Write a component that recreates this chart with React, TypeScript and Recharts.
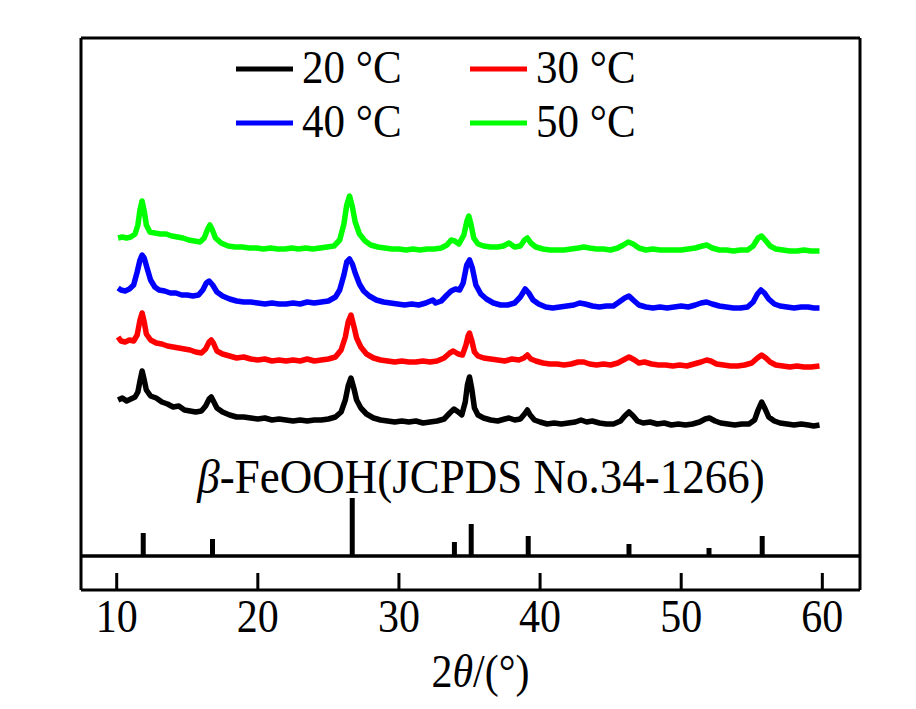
import React from 'react';
import { ComposedChart, Line, XAxis, YAxis, ReferenceLine, Legend } from 'recharts';

const FONT = '"Liberation Serif", "Times New Roman", serif';

const xTicks = [10, 20, 30, 40, 50, 60];
const xDomain = [7.47, 62.67];
const yDomain = [-34, 518];

const seriesNames = ['20 °C', '30 °C', '40 °C', '50 °C'];
const seriesColors = ['#000000', '#ff0000', '#0000ff', '#00ff00'];

// JCPDS No.34-1266 reference lines: [2θ, relative height]
const refPeaks = [
  [11.88, 23], [16.79, 17], [26.69, 58], [33.93, 14], [35.12, 32],
  [39.16, 20], [46.3, 12], [51.97, 8], [55.74, 20],
];

// [2θ, intensity (a.u., offset stacked)]
const t20 = [
  [10.1, 156], [10.4, 158], [10.7, 155], [11.0, 157], [11.3, 159], [11.5, 164], [11.65, 175], [11.8, 185],
  [11.95, 176], [12.1, 166], [12.4, 160], [12.8, 158], [13.2, 154], [13.6, 152], [14.0, 149], [14.4, 150],
  [14.8, 146], [15.2, 145], [15.6, 144], [16.0, 145], [16.3, 150], [16.55, 157], [16.7, 159], [16.85, 155],
  [17.1, 148], [17.5, 144], [18.0, 141], [18.5, 139], [19.0, 139], [19.5, 138], [20.0, 137], [20.5, 138],
  [21.0, 136], [21.5, 137], [22.0, 136], [22.5, 135], [23.0, 136], [23.5, 135], [24.0, 136], [24.5, 136],
  [25.0, 137], [25.5, 139], [25.9, 144], [26.2, 156], [26.4, 170], [26.6, 178], [26.8, 168], [27.0, 156],
  [27.3, 148], [27.7, 142], [28.2, 138], [28.7, 136], [29.2, 135], [29.7, 134], [30.2, 135], [30.7, 134],
  [31.2, 135], [31.7, 133], [32.2, 134], [32.7, 135], [33.2, 137], [33.6, 143], [33.9, 147], [34.2, 144],
  [34.45, 141], [34.7, 154], [34.85, 171], [35.0, 179], [35.15, 168], [35.35, 148], [35.6, 141], [36.0, 138],
  [36.5, 136], [37.0, 135], [37.5, 137], [37.8, 138], [38.2, 136], [38.6, 137], [38.9, 142], [39.1, 146],
  [39.3, 141], [39.6, 136], [40.0, 134], [40.5, 132], [41.0, 133], [41.5, 132], [42.0, 133], [42.5, 134],
  [42.9, 136], [43.3, 134], [43.7, 135], [44.2, 133], [44.7, 132], [45.2, 132], [45.7, 135], [46.0, 140],
  [46.3, 144], [46.6, 140], [46.9, 135], [47.3, 133], [47.8, 134], [48.3, 132], [48.8, 133], [49.3, 131],
  [49.8, 132], [50.3, 131], [50.8, 132], [51.3, 134], [51.7, 137], [52.0, 138], [52.4, 135], [52.8, 133],
  [53.3, 132], [53.8, 131], [54.3, 132], [54.8, 132], [55.2, 136], [55.45, 146], [55.7, 154], [55.95, 147],
  [56.2, 139], [56.6, 135], [57.0, 133], [57.5, 132], [58.0, 131], [58.5, 132], [59.0, 131], [59.4, 130],
  [59.8, 131],
];

const t30 = [
  [10.1, 219], [10.3, 215], [10.6, 214], [10.9, 216], [11.2, 215], [11.45, 221], [11.65, 236], [11.8, 243],
  [11.95, 234], [12.1, 222], [12.4, 216], [12.8, 213], [13.2, 212], [13.6, 210], [14.0, 209], [14.4, 208],
  [14.8, 207], [15.2, 206], [15.6, 204], [16.0, 203], [16.3, 207], [16.55, 214], [16.7, 216], [16.85, 213],
  [17.1, 205], [17.5, 202], [18.0, 200], [18.5, 198], [19.0, 199], [19.5, 197], [20.0, 196], [20.5, 197],
  [21.0, 195], [21.5, 196], [22.0, 195], [22.5, 196], [23.0, 195], [23.5, 197], [24.0, 195], [24.5, 196],
  [25.0, 197], [25.5, 199], [25.9, 206], [26.2, 219], [26.4, 234], [26.6, 241], [26.8, 230], [27.0, 218],
  [27.3, 209], [27.7, 202], [28.2, 198], [28.7, 196], [29.2, 195], [29.7, 194], [30.2, 195], [30.7, 194],
  [31.2, 194], [31.7, 195], [32.2, 194], [32.7, 195], [33.2, 198], [33.6, 203], [33.85, 205], [34.2, 202],
  [34.5, 201], [34.75, 211], [34.9, 220], [35.0, 223], [35.15, 216], [35.35, 204], [35.6, 200], [36.0, 198],
  [36.5, 197], [37.0, 196], [37.5, 195], [38.0, 197], [38.5, 196], [38.85, 198], [39.1, 201], [39.35, 197],
  [39.7, 195], [40.2, 193], [40.7, 192], [41.2, 192], [41.7, 191], [42.2, 192], [42.7, 194], [43.1, 194],
  [43.5, 192], [44.0, 191], [44.5, 192], [45.0, 191], [45.5, 193], [45.9, 196], [46.3, 199], [46.7, 196],
  [47.0, 193], [47.4, 194], [47.9, 192], [48.4, 191], [48.9, 191], [49.4, 190], [49.9, 191], [50.4, 190],
  [50.9, 192], [51.4, 194], [51.8, 196], [52.1, 195], [52.5, 192], [53.0, 191], [53.5, 190], [54.0, 190],
  [54.5, 191], [55.0, 193], [55.4, 198], [55.7, 201], [56.0, 198], [56.3, 194], [56.7, 191], [57.2, 190],
  [57.7, 189], [58.2, 190], [58.7, 189], [59.2, 189], [59.8, 190],
];

const t40 = [
  [10.1, 268], [10.3, 266], [10.6, 265], [10.9, 267], [11.2, 271], [11.45, 284], [11.65, 296], [11.8, 301],
  [11.95, 298], [12.15, 288], [12.4, 276], [12.7, 269], [13.0, 266], [13.4, 265], [13.8, 263], [14.2, 263],
  [14.6, 261], [15.0, 261], [15.4, 260], [15.8, 261], [16.1, 266], [16.35, 273], [16.55, 275], [16.8, 271],
  [17.1, 264], [17.5, 260], [18.0, 257], [18.5, 255], [19.0, 254], [19.5, 254], [20.0, 253], [20.5, 252],
  [21.0, 253], [21.5, 252], [22.0, 252], [22.5, 253], [23.0, 252], [23.5, 254], [24.0, 253], [24.5, 254],
  [25.0, 255], [25.5, 259], [25.8, 266], [26.1, 281], [26.3, 294], [26.5, 297], [26.7, 292], [26.9, 283],
  [27.2, 272], [27.5, 265], [27.9, 260], [28.4, 256], [28.9, 254], [29.4, 253], [29.9, 252], [30.4, 251],
  [30.9, 252], [31.4, 251], [31.9, 253], [32.4, 256], [32.6, 253], [33.0, 255], [33.4, 261], [33.7, 265],
  [34.0, 267], [34.3, 266], [34.55, 273], [34.8, 291], [35.0, 296], [35.2, 288], [35.45, 271], [35.8, 262],
  [36.2, 257], [36.7, 253], [37.2, 251], [37.7, 251], [38.2, 253], [38.6, 259], [38.95, 267], [39.2, 263],
  [39.5, 256], [39.9, 252], [40.4, 249], [40.9, 248], [41.4, 249], [41.9, 250], [42.4, 251], [42.8, 253],
  [43.2, 252], [43.7, 250], [44.2, 249], [44.7, 250], [45.2, 250], [45.6, 254], [46.0, 258], [46.3, 260],
  [46.6, 256], [47.0, 251], [47.5, 249], [48.0, 248], [48.5, 249], [49.0, 248], [49.5, 249], [50.0, 250],
  [50.5, 249], [51.0, 251], [51.4, 253], [51.8, 254], [52.2, 252], [52.7, 250], [53.2, 249], [53.7, 248],
  [54.2, 248], [54.7, 249], [55.1, 254], [55.4, 262], [55.65, 266], [55.9, 263], [56.2, 257], [56.6, 252],
  [57.0, 250], [57.5, 249], [58.0, 248], [58.5, 249], [59.0, 249], [59.4, 248], [59.8, 248],
];

const t50 = [
  [10.1, 318], [10.4, 319], [10.7, 318], [11.0, 319], [11.3, 322], [11.5, 331], [11.65, 346], [11.8, 355],
  [11.95, 345], [12.1, 331], [12.35, 324], [12.7, 323], [13.1, 322], [13.5, 322], [13.9, 320], [14.3, 319],
  [14.7, 318], [15.1, 316], [15.5, 315], [15.9, 314], [16.2, 318], [16.45, 327], [16.6, 331], [16.75, 327],
  [17.0, 318], [17.4, 313], [17.9, 310], [18.4, 309], [18.9, 309], [19.4, 308], [19.9, 308], [20.4, 307],
  [20.9, 308], [21.4, 307], [21.9, 307], [22.4, 308], [22.9, 307], [23.4, 308], [23.9, 307], [24.4, 308],
  [24.9, 309], [25.4, 310], [25.8, 316], [26.1, 332], [26.3, 351], [26.5, 360], [26.7, 349], [26.9, 334],
  [27.2, 322], [27.6, 315], [28.0, 311], [28.5, 309], [29.0, 308], [29.5, 307], [30.0, 307], [30.5, 306],
  [31.0, 307], [31.5, 306], [32.0, 307], [32.5, 307], [33.0, 308], [33.4, 311], [33.7, 316], [33.95, 315],
  [34.25, 312], [34.6, 321], [34.8, 334], [34.95, 340], [35.1, 332], [35.3, 318], [35.6, 312], [36.0, 310],
  [36.5, 309], [37.0, 309], [37.4, 310], [37.8, 313], [38.2, 309], [38.6, 310], [38.9, 316], [39.1, 318],
  [39.35, 313], [39.7, 309], [40.2, 307], [40.7, 306], [41.2, 306], [41.7, 306], [42.2, 307], [42.7, 308],
  [43.1, 309], [43.5, 308], [44.0, 307], [44.5, 307], [45.0, 306], [45.5, 308], [45.9, 311], [46.25, 314],
  [46.6, 312], [47.0, 308], [47.5, 306], [48.0, 307], [48.5, 306], [49.0, 306], [49.5, 306], [50.0, 306],
  [50.5, 307], [51.0, 308], [51.5, 310], [51.8, 311], [52.2, 308], [52.7, 306], [53.2, 306], [53.7, 305],
  [54.2, 306], [54.7, 306], [55.1, 310], [55.45, 318], [55.7, 320], [55.95, 316], [56.3, 310], [56.7, 307],
  [57.2, 306], [57.7, 305], [58.2, 305], [58.7, 306], [59.2, 305], [59.8, 305],
];

const traces = [t20, t30, t40, t50];
const toRows = (pairs: number[][]) => pairs.map(([x, y]) => ({ x, y }));

const TEXT_STRETCH = 1.1;

const renderTick = (props: any) => {
  const { x, y, payload } = props;
  return (
    <g>
      <line x1={x} x2={x} y1={y} y2={y - 17} stroke="#000" strokeWidth={3} />
      <text
        transform={`translate(${x} ${y + 42}) scale(1 ${TEXT_STRETCH})`}
        textAnchor="middle"
        fontFamily={FONT}
        fontSize={42}
        fill="#000"
      >
        {payload.value}
      </text>
    </g>
  );
};

const renderXLabel = (props: any) => {
  const vb = props.viewBox || {};
  const cx = vb.x + vb.width / 2 + 10;
  const by = vb.y + 97;
  return (
    <text
      transform={`translate(${cx} ${by}) scale(1 ${TEXT_STRETCH})`}
      textAnchor="middle"
      fontFamily={FONT}
      fontSize={42}
      fill="#000"
    >
      <tspan>2</tspan>
      <tspan fontStyle="italic">θ</tspan>
      <tspan>/(°)</tspan>
    </text>
  );
};

const legendCols = [228, 462];
const legendRows = [61, 115];

const renderLegend = () => (
  <svg width={900} height={693} style={{ position: 'absolute', left: 0, top: 0, pointerEvents: 'none' }}>
    {seriesNames.map((name, i) => {
      const lx = legendCols[i % 2];
      const ly = legendRows[Math.floor(i / 2)];
      return (
        <g key={name}>
          <line x1={lx} x2={lx + 57} y1={ly} y2={ly} stroke={seriesColors[i]} strokeWidth={5} />
          <text
            transform={`translate(${lx + 66} ${ly + 14}) scale(1 ${TEXT_STRETCH})`}
            fontFamily={FONT}
            fontSize={43}
            fill="#000"
          >
            {name}
          </text>
        </g>
      );
    })}
  </svg>
);

const axisLine = { stroke: '#000', strokeWidth: 3 };

export default function App() {
  return (
    <div style={{ position: 'relative', width: 900, height: 693 }}>
      <ComposedChart
        width={900}
        height={693}
        margin={{ top: 29, right: 47, bottom: 110, left: 72 }}
      >
        <XAxis
          xAxisId="b"
          type="number"
          dataKey="x"
          domain={xDomain}
          ticks={xTicks}
          interval={0}
          allowDataOverflow
          height={1}
          tickSize={0}
          tickMargin={0}
          tickLine={false}
          axisLine={axisLine}
          tick={renderTick}
          label={{ content: renderXLabel }}
        />
        <XAxis
          xAxisId="t"
          orientation="top"
          type="number"
          dataKey="x"
          domain={xDomain}
          allowDataOverflow
          height={1}
          tick={false}
          tickLine={false}
          axisLine={axisLine}
        />
        <YAxis
          yAxisId="l"
          type="number"
          domain={yDomain}
          allowDataOverflow
          width={1}
          tick={false}
          tickLine={false}
          axisLine={axisLine}
        />
        <YAxis
          yAxisId="r"
          orientation="right"
          type="number"
          domain={yDomain}
          allowDataOverflow
          width={1}
          tick={false}
          tickLine={false}
          axisLine={axisLine}
        />
        <ReferenceLine xAxisId="b" yAxisId="l" y={0} stroke="#000" strokeWidth={3.5} />
        {refPeaks.map(([p, h]) => (
          <ReferenceLine
            key={p}
            xAxisId="b"
            yAxisId="l"
            segment={[{ x: p, y: 0 }, { x: p, y: h }]}
            stroke="#000"
            strokeWidth={5}
          />
        ))}
        {traces.map((t, i) => (
          <Line
            key={seriesNames[i]}
            xAxisId="b"
            yAxisId="l"
            data={toRows(t)}
            dataKey="y"
            name={seriesNames[i]}
            type="linear"
            stroke={seriesColors[i]}
            strokeWidth={5.5}
            strokeLinejoin="round"
            dot={false}
            activeDot={false}
            isAnimationActive={false}
          />
        ))}
        <Legend
          layout="horizontal"
          verticalAlign="middle"
          align="center"
          wrapperStyle={{ left: 0, top: 0, width: 900, height: 693 }}
          content={renderLegend}
        />
      </ComposedChart>
      <svg width={900} height={693} style={{ position: 'absolute', left: 0, top: 0, pointerEvents: 'none' }}>
        <text
          transform={`translate(473 485) scale(1 ${TEXT_STRETCH})`}
          textAnchor="middle"
          fontFamily={FONT}
          fontSize={45}
          fill="#000"
        >
          <tspan fontStyle="italic">β</tspan>
          <tspan>-FeOOH(JCPDS No.34-1266)</tspan>
        </text>
      </svg>
    </div>
  );
}
